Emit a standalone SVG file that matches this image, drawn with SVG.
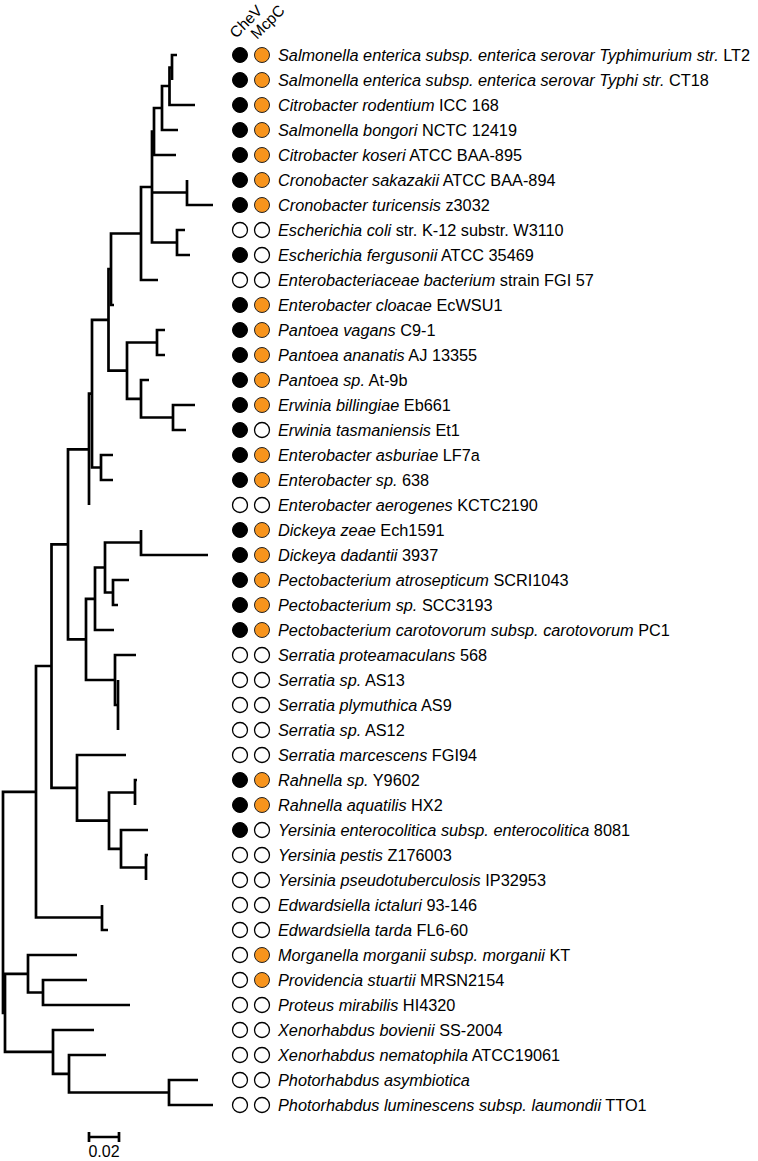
<svg xmlns="http://www.w3.org/2000/svg" width="758" height="1161" viewBox="0 0 758 1161">
<style>
text{font-family:"Liberation Sans",Arial,sans-serif;font-size:16.3px;fill:#000}
.i{font-style:italic}
.hd{font-size:15.5px}
.sc{font-size:16px}
.b{fill:#000;stroke:#000;stroke-width:1}
.o{fill:#F7941D;stroke:#222;stroke-width:1}
.w{fill:#fff;stroke:#000;stroke-width:1.3}
.br{fill:none;stroke:#000;stroke-width:2.7;stroke-linejoin:miter;stroke-linecap:butt}
</style>
<rect width="758" height="1161" fill="#fff"/>
<g id="header">
<text class="hd" transform="translate(236,39) rotate(-45)">CheV</text>
<text class="hd" transform="translate(257,40) rotate(-45)">McpC</text>
</g>
<g id="connectors" class="br">
<path d="M177 55H172V80"/>
<path d="M172 67.5H169.5V105H195"/>
<path d="M169.5 86H162V130H178"/>
<path d="M162 108H154V155H176"/>
<path d="M187 180V205H213"/>
<path d="M185 230H177V255H190"/>
<path d="M154 131.5H152V242.5H177M152 192.5H187"/>
<path d="M152 187H141V280H158"/>
<path d="M141 233.5H111V305H114"/>
<path d="M165 330H157V355H165"/>
<path d="M195 405H173V430H186"/>
<path d="M149 380H141V417.5H173"/>
<path d="M157 342.5H127V398.8H141"/>
<path d="M111 269H108.5V370.6H127"/>
<path d="M113 455H101V480H113"/>
<path d="M108.5 319.8H92V467.5H101"/>
<path d="M92 393.7H89V505"/>
<path d="M141 530V555H208"/>
<path d="M129 580H113V605H118"/>
<path d="M141 542.5H105V592.5H113"/>
<path d="M105 567.5H95V630H114"/>
<path d="M118 680V730"/>
<path d="M136 655H115V705H118"/>
<path d="M95 598.8H86V680H115"/>
<path d="M89 449.3H68V639.4H86"/>
<path d="M137 780H135V805"/>
<path d="M148 855H146V880"/>
<path d="M148 830H121V867.5H146"/>
<path d="M135 792.5H109V848.8H121"/>
<path d="M126 755H77V820.6H109"/>
<path d="M68 544.3H51.5V787.8H77"/>
<path d="M102 905V930H108"/>
<path d="M51.5 666H36V917.5H102"/>
<path d="M87 980H43V1005H130"/>
<path d="M77 955H28V992.5H43"/>
<path d="M198 1080H169V1105H213"/>
<path d="M106 1055H69V1092.5H169"/>
<path d="M94 1030H53V1073.8H69"/>
<path d="M28 973.8H5V1051.9H53"/>
<path d="M36 791.8H3V1012.8H5"/>
</g>
<g id="scalebar">
<path class="br" d="M89 1137H119M89 1132V1142M119 1132V1142"/>
<text class="sc" x="104" y="1157" text-anchor="middle">0.02</text>
</g>
<g id="t1"><circle class="b" cx="240" cy="55" r="7.5"/><circle class="o" cx="262" cy="55" r="7.5"/><text x="278" y="60.5"><tspan class="i">Salmonella enterica subsp. enterica serovar Typhimurium str.</tspan> LT2</text></g>
<g id="t2"><circle class="b" cx="240" cy="80" r="7.5"/><circle class="o" cx="262" cy="80" r="7.5"/><text x="278" y="85.5"><tspan class="i">Salmonella enterica subsp. enterica serovar Typhi str.</tspan> CT18</text></g>
<g id="t3"><circle class="b" cx="240" cy="105" r="7.5"/><circle class="o" cx="262" cy="105" r="7.5"/><text x="278" y="110.5"><tspan class="i">Citrobacter rodentium</tspan> ICC 168</text></g>
<g id="t4"><circle class="b" cx="240" cy="130" r="7.5"/><circle class="o" cx="262" cy="130" r="7.5"/><text x="278" y="135.5"><tspan class="i">Salmonella bongori</tspan> NCTC 12419</text></g>
<g id="t5"><circle class="b" cx="240" cy="155" r="7.5"/><circle class="o" cx="262" cy="155" r="7.5"/><text x="278" y="160.5"><tspan class="i">Citrobacter koseri</tspan> ATCC BAA-895</text></g>
<g id="t6"><circle class="b" cx="240" cy="180" r="7.5"/><circle class="o" cx="262" cy="180" r="7.5"/><text x="278" y="185.5"><tspan class="i">Cronobacter sakazakii</tspan> ATCC BAA-894</text></g>
<g id="t7"><circle class="b" cx="240" cy="205" r="7.5"/><circle class="o" cx="262" cy="205" r="7.5"/><text x="278" y="210.5"><tspan class="i">Cronobacter turicensis</tspan> z3032</text></g>
<g id="t8"><circle class="w" cx="240" cy="230" r="7.5"/><circle class="w" cx="262" cy="230" r="7.5"/><text x="278" y="235.5"><tspan class="i">Escherichia coli</tspan> str. K-12 substr. W3110</text></g>
<g id="t9"><circle class="b" cx="240" cy="255" r="7.5"/><circle class="w" cx="262" cy="255" r="7.5"/><text x="278" y="260.5"><tspan class="i">Escherichia fergusonii</tspan> ATCC 35469</text></g>
<g id="t10"><circle class="w" cx="240" cy="280" r="7.5"/><circle class="w" cx="262" cy="280" r="7.5"/><text x="278" y="285.5"><tspan class="i">Enterobacteriaceae bacterium</tspan> strain FGI 57</text></g>
<g id="t11"><circle class="b" cx="240" cy="305" r="7.5"/><circle class="o" cx="262" cy="305" r="7.5"/><text x="278" y="310.5"><tspan class="i">Enterobacter cloacae</tspan> EcWSU1</text></g>
<g id="t12"><circle class="b" cx="240" cy="330" r="7.5"/><circle class="o" cx="262" cy="330" r="7.5"/><text x="278" y="335.5"><tspan class="i">Pantoea vagans</tspan> C9-1</text></g>
<g id="t13"><circle class="b" cx="240" cy="355" r="7.5"/><circle class="o" cx="262" cy="355" r="7.5"/><text x="278" y="360.5"><tspan class="i">Pantoea ananatis</tspan> AJ 13355</text></g>
<g id="t14"><circle class="b" cx="240" cy="380" r="7.5"/><circle class="o" cx="262" cy="380" r="7.5"/><text x="278" y="385.5"><tspan class="i">Pantoea sp.</tspan> At-9b</text></g>
<g id="t15"><circle class="b" cx="240" cy="405" r="7.5"/><circle class="o" cx="262" cy="405" r="7.5"/><text x="278" y="410.5"><tspan class="i">Erwinia billingiae</tspan> Eb661</text></g>
<g id="t16"><circle class="b" cx="240" cy="430" r="7.5"/><circle class="w" cx="262" cy="430" r="7.5"/><text x="278" y="435.5"><tspan class="i">Erwinia tasmaniensis</tspan> Et1</text></g>
<g id="t17"><circle class="b" cx="240" cy="455" r="7.5"/><circle class="o" cx="262" cy="455" r="7.5"/><text x="278" y="460.5"><tspan class="i">Enterobacter asburiae</tspan> LF7a</text></g>
<g id="t18"><circle class="b" cx="240" cy="480" r="7.5"/><circle class="o" cx="262" cy="480" r="7.5"/><text x="278" y="485.5"><tspan class="i">Enterobacter sp.</tspan> 638</text></g>
<g id="t19"><circle class="w" cx="240" cy="505" r="7.5"/><circle class="w" cx="262" cy="505" r="7.5"/><text x="278" y="510.5"><tspan class="i">Enterobacter aerogenes</tspan> KCTC2190</text></g>
<g id="t20"><circle class="b" cx="240" cy="530" r="7.5"/><circle class="o" cx="262" cy="530" r="7.5"/><text x="278" y="535.5"><tspan class="i">Dickeya zeae</tspan> Ech1591</text></g>
<g id="t21"><circle class="b" cx="240" cy="555" r="7.5"/><circle class="o" cx="262" cy="555" r="7.5"/><text x="278" y="560.5"><tspan class="i">Dickeya dadantii</tspan> 3937</text></g>
<g id="t22"><circle class="b" cx="240" cy="580" r="7.5"/><circle class="o" cx="262" cy="580" r="7.5"/><text x="278" y="585.5"><tspan class="i">Pectobacterium atrosepticum</tspan> SCRI1043</text></g>
<g id="t23"><circle class="b" cx="240" cy="605" r="7.5"/><circle class="o" cx="262" cy="605" r="7.5"/><text x="278" y="610.5"><tspan class="i">Pectobacterium sp.</tspan> SCC3193</text></g>
<g id="t24"><circle class="b" cx="240" cy="630" r="7.5"/><circle class="o" cx="262" cy="630" r="7.5"/><text x="278" y="635.5"><tspan class="i">Pectobacterium carotovorum subsp. carotovorum</tspan> PC1</text></g>
<g id="t25"><circle class="w" cx="240" cy="655" r="7.5"/><circle class="w" cx="262" cy="655" r="7.5"/><text x="278" y="660.5"><tspan class="i">Serratia proteamaculans</tspan> 568</text></g>
<g id="t26"><circle class="w" cx="240" cy="680" r="7.5"/><circle class="w" cx="262" cy="680" r="7.5"/><text x="278" y="685.5"><tspan class="i">Serratia sp.</tspan> AS13</text></g>
<g id="t27"><circle class="w" cx="240" cy="705" r="7.5"/><circle class="w" cx="262" cy="705" r="7.5"/><text x="278" y="710.5"><tspan class="i">Serratia plymuthica</tspan> AS9</text></g>
<g id="t28"><circle class="w" cx="240" cy="730" r="7.5"/><circle class="w" cx="262" cy="730" r="7.5"/><text x="278" y="735.5"><tspan class="i">Serratia sp.</tspan> AS12</text></g>
<g id="t29"><circle class="w" cx="240" cy="755" r="7.5"/><circle class="w" cx="262" cy="755" r="7.5"/><text x="278" y="760.5"><tspan class="i">Serratia marcescens</tspan> FGI94</text></g>
<g id="t30"><circle class="b" cx="240" cy="780" r="7.5"/><circle class="o" cx="262" cy="780" r="7.5"/><text x="278" y="785.5"><tspan class="i">Rahnella sp.</tspan> Y9602</text></g>
<g id="t31"><circle class="b" cx="240" cy="805" r="7.5"/><circle class="o" cx="262" cy="805" r="7.5"/><text x="278" y="810.5"><tspan class="i">Rahnella aquatilis</tspan> HX2</text></g>
<g id="t32"><circle class="b" cx="240" cy="830" r="7.5"/><circle class="w" cx="262" cy="830" r="7.5"/><text x="278" y="835.5"><tspan class="i">Yersinia enterocolitica subsp. enterocolitica</tspan> 8081</text></g>
<g id="t33"><circle class="w" cx="240" cy="855" r="7.5"/><circle class="w" cx="262" cy="855" r="7.5"/><text x="278" y="860.5"><tspan class="i">Yersinia pestis</tspan> Z176003</text></g>
<g id="t34"><circle class="w" cx="240" cy="880" r="7.5"/><circle class="w" cx="262" cy="880" r="7.5"/><text x="278" y="885.5"><tspan class="i">Yersinia pseudotuberculosis</tspan> IP32953</text></g>
<g id="t35"><circle class="w" cx="240" cy="905" r="7.5"/><circle class="w" cx="262" cy="905" r="7.5"/><text x="278" y="910.5"><tspan class="i">Edwardsiella ictaluri</tspan> 93-146</text></g>
<g id="t36"><circle class="w" cx="240" cy="930" r="7.5"/><circle class="w" cx="262" cy="930" r="7.5"/><text x="278" y="935.5"><tspan class="i">Edwardsiella tarda</tspan> FL6-60</text></g>
<g id="t37"><circle class="w" cx="240" cy="955" r="7.5"/><circle class="o" cx="262" cy="955" r="7.5"/><text x="278" y="960.5"><tspan class="i">Morganella morganii subsp. morganii</tspan> KT</text></g>
<g id="t38"><circle class="w" cx="240" cy="980" r="7.5"/><circle class="o" cx="262" cy="980" r="7.5"/><text x="278" y="985.5"><tspan class="i">Providencia stuartii</tspan> MRSN2154</text></g>
<g id="t39"><circle class="w" cx="240" cy="1005" r="7.5"/><circle class="w" cx="262" cy="1005" r="7.5"/><text x="278" y="1010.5"><tspan class="i">Proteus mirabilis</tspan> HI4320</text></g>
<g id="t40"><circle class="w" cx="240" cy="1030" r="7.5"/><circle class="w" cx="262" cy="1030" r="7.5"/><text x="278" y="1035.5"><tspan class="i">Xenorhabdus bovienii</tspan> SS-2004</text></g>
<g id="t41"><circle class="w" cx="240" cy="1055" r="7.5"/><circle class="w" cx="262" cy="1055" r="7.5"/><text x="278" y="1060.5"><tspan class="i">Xenorhabdus nematophila</tspan> ATCC19061</text></g>
<g id="t42"><circle class="w" cx="240" cy="1080" r="7.5"/><circle class="w" cx="262" cy="1080" r="7.5"/><text x="278" y="1085.5"><tspan class="i">Photorhabdus asymbiotica</tspan></text></g>
<g id="t43"><circle class="w" cx="240" cy="1105" r="7.5"/><circle class="w" cx="262" cy="1105" r="7.5"/><text x="278" y="1110.5"><tspan class="i">Photorhabdus luminescens subsp. laumondii</tspan> TTO1</text></g>
</svg>
